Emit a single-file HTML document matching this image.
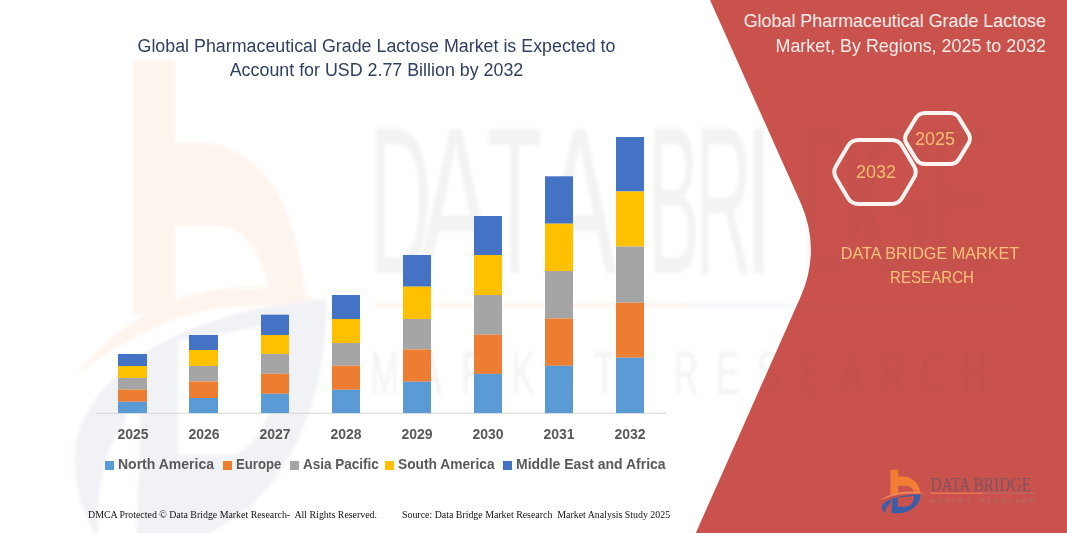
<!DOCTYPE html>
<html><head><meta charset="utf-8">
<style>
html,body{margin:0;padding:0;}
body{width:1067px;height:533px;overflow:hidden;background:#fff;position:relative;font-family:"Liberation Sans",sans-serif;}
.abs{position:absolute;white-space:nowrap;line-height:1;}
svg{position:absolute;left:0;top:0;}
.t1{color:#2F4064;font-size:17.6px;left:0;width:753px;text-align:center;transform:scaleX(1.014);transform-origin:376.5px 0;}
.rt{color:#FCEDEA;font-size:17.9px;right:21px;text-align:right;}
.yr{color:#595959;font-weight:bold;font-size:14px;width:60px;text-align:center;}
.lg{color:#595959;font-weight:bold;font-size:14px;}
.sq{position:absolute;width:8.8px;height:9px;top:461px;}
.ft{font-family:"Liberation Serif",serif;font-size:10px;color:#111;}
.hx{color:#F8BE70;font-size:18px;width:60px;text-align:center;}
.dbm{color:#FAC478;font-size:17px;width:200px;text-align:center;transform-origin:100px 0;}
</style></head>
<body>
<svg width="1067" height="533" viewBox="0 0 1067 533">
  <defs>
    <clipPath id="cpw"><path d="M0 0 L710 0 L800.3 202 Q821.5 249.6 800.5 297 L695.8 533 L0 533 Z"/></clipPath><clipPath id="cpr"><path d="M710 0 L800.3 202 Q821.5 249.6 800.5 297 L695.8 533 L1067 533 L1067 0 Z"/></clipPath>
    <filter id="blur" x="-10%" y="-10%" width="120%" height="120%"><feGaussianBlur stdDeviation="1.5"/></filter>
    <g id="wmc">
    <g opacity="0.085">
      <g transform="translate(133 59.7) scale(5.75 10.4)">
      <path d="M0 0 L7.4 0 L7.4 8 L12 8 C22 8 29 14 30.1 23.5 L24.1 23.5 C23 19 19.5 16 15 16 L7.4 16 L7.4 24.5 L0 24.5 Z" fill="#F27E36"/>
      <path d="M-10.1 30.4 C-4 26 6 22.5 16 22 C25 21.6 31 22.5 34.7 23.8 C30 23.8 24 23.4 16 23.8 C6 24.5 -3 27.5 -10.1 30.4 Z" fill="#F27E36"/>
      </g>
      <g transform="translate(130 300) scale(6.5 12.5) translate(0 -24.5)">
      <path fill-rule="evenodd" d="M2 28.8 C9 26.5 19 24.8 30.2 24.5 C30.5 33 23 41.5 10 43.5 L1 43.5 Z M7.4 27.8 L23.5 26.3 C24.5 30 21 36.9 15 36.9 L7.4 36.9 Z" fill="#5A6C98"/>
      <path d="M1.5 29 C-4 31 -8.5 34 -8.5 37 C-8.5 40 -6.5 42.5 -4.8 43.5 C-5.5 40 -4 36.5 -1 34.5 Z" fill="#5A6C98"/>
      </g>
    </g>
    <g opacity="0.075" fill="#555" font-family="Liberation Sans">
      <g font-size="210"><text transform="translate(400.5 273) scale(0.41 1)" text-anchor="middle">D</text><text transform="translate(455.5 273) scale(0.53 1)" text-anchor="middle">A</text><text transform="translate(514.5 273) scale(0.43 1)" text-anchor="middle">T</text><text transform="translate(579.5 273) scale(0.535 1)" text-anchor="middle">A</text><text transform="translate(674 273) scale(0.37 1)" text-anchor="middle">B</text><text transform="translate(723.5 273) scale(0.38 1)" text-anchor="middle">R</text><text transform="translate(758.5 273) scale(0.5 1)" text-anchor="middle">I</text><text transform="translate(832 273) scale(0.42 1)" text-anchor="middle">D</text><text transform="translate(896 273) scale(0.44 1)" text-anchor="middle">G</text><text transform="translate(960 273) scale(0.45 1)" text-anchor="middle">E</text></g>
      <g font-size="62"><text transform="translate(384.5 394) scale(0.55 1)" text-anchor="middle">M</text><text transform="translate(430.0 394) scale(0.55 1)" text-anchor="middle">A</text><text transform="translate(474.0 394) scale(0.55 1)" text-anchor="middle">R</text><text transform="translate(523.0 394) scale(0.55 1)" text-anchor="middle">K</text><text transform="translate(563.0 394) scale(0.55 1)" text-anchor="middle">E</text><text transform="translate(604.5 394) scale(0.55 1)" text-anchor="middle">T</text><text transform="translate(686.0 394) scale(0.55 1)" text-anchor="middle">R</text><text transform="translate(727.3 394) scale(0.55 1)" text-anchor="middle">E</text><text transform="translate(768.6 394) scale(0.55 1)" text-anchor="middle">S</text><text transform="translate(809.9 394) scale(0.55 1)" text-anchor="middle">E</text><text transform="translate(851.2 394) scale(0.55 1)" text-anchor="middle">A</text><text transform="translate(892.5 394) scale(0.55 1)" text-anchor="middle">R</text><text transform="translate(933.8 394) scale(0.55 1)" text-anchor="middle">C</text><text transform="translate(975.1 394) scale(0.55 1)" text-anchor="middle">H</text></g>
    </g>
    <rect x="374" y="303" width="314" height="5" fill="#F27E36" opacity="0.07"/>
    <rect x="688" y="303" width="327" height="5" fill="#3A5DAA" opacity="0.05"/>
    </g>
  </defs>
  <!-- red panel -->
  <path d="M710 0 L800.3 202 Q821.5 249.6 800.5 297 L695.8 533 L1067 533 L1067 0 Z" fill="#CA524D"/>
  <!-- watermark -->
  <g clip-path="url(#cpw)"><use href="#wmc" filter="url(#blur)"/></g>
  <g clip-path="url(#cpr)" opacity="0.6"><use href="#wmc" filter="url(#blur)"/></g>
  <!-- axis -->
  <rect x="96" y="412.8" width="570" height="1.1" fill="#D9D9D9"/>
  <g id="bars">
<rect x="118" y="354" width="29" height="12" fill="#4472C4"/>
<rect x="118" y="366" width="29" height="12" fill="#FFC000"/>
<rect x="118" y="378" width="29" height="11.6" fill="#A5A5A5"/>
<rect x="118" y="389.6" width="29" height="12.2" fill="#ED7D31"/>
<rect x="118" y="401.8" width="29" height="11.2" fill="#5B9BD5"/>
<rect x="189" y="335" width="29" height="15" fill="#4472C4"/>
<rect x="189" y="350" width="29" height="16" fill="#FFC000"/>
<rect x="189" y="366" width="29" height="15.5" fill="#A5A5A5"/>
<rect x="189" y="381.5" width="29" height="16.5" fill="#ED7D31"/>
<rect x="189" y="398" width="29" height="15" fill="#5B9BD5"/>
<rect x="261" y="314.7" width="28" height="20.3" fill="#4472C4"/>
<rect x="261" y="335" width="28" height="19" fill="#FFC000"/>
<rect x="261" y="354" width="28" height="19.8" fill="#A5A5A5"/>
<rect x="261" y="373.8" width="28" height="20.0" fill="#ED7D31"/>
<rect x="261" y="393.8" width="28" height="19.2" fill="#5B9BD5"/>
<rect x="332" y="295" width="28" height="24" fill="#4472C4"/>
<rect x="332" y="319" width="28" height="24" fill="#FFC000"/>
<rect x="332" y="343" width="28" height="22.7" fill="#A5A5A5"/>
<rect x="332" y="365.7" width="28" height="24.1" fill="#ED7D31"/>
<rect x="332" y="389.8" width="28" height="23.2" fill="#5B9BD5"/>
<rect x="403" y="255" width="28" height="31.7" fill="#4472C4"/>
<rect x="403" y="286.7" width="28" height="32.3" fill="#FFC000"/>
<rect x="403" y="319" width="28" height="30.5" fill="#A5A5A5"/>
<rect x="403" y="349.5" width="28" height="32.2" fill="#ED7D31"/>
<rect x="403" y="381.7" width="28" height="31.3" fill="#5B9BD5"/>
<rect x="474" y="216" width="28" height="39" fill="#4472C4"/>
<rect x="474" y="255" width="28" height="40" fill="#FFC000"/>
<rect x="474" y="295" width="28" height="39.7" fill="#A5A5A5"/>
<rect x="474" y="334.7" width="28" height="39.2" fill="#ED7D31"/>
<rect x="474" y="373.9" width="28" height="39.1" fill="#5B9BD5"/>
<rect x="545" y="176.3" width="28" height="47.4" fill="#4472C4"/>
<rect x="545" y="223.7" width="28" height="47.3" fill="#FFC000"/>
<rect x="545" y="271" width="28" height="47.5" fill="#A5A5A5"/>
<rect x="545" y="318.5" width="28" height="47.3" fill="#ED7D31"/>
<rect x="545" y="365.8" width="28" height="47.2" fill="#5B9BD5"/>
<rect x="616" y="137" width="28" height="54.5" fill="#4472C4"/>
<rect x="616" y="191.5" width="28" height="55.1" fill="#FFC000"/>
<rect x="616" y="246.6" width="28" height="56.1" fill="#A5A5A5"/>
<rect x="616" y="302.7" width="28" height="55.0" fill="#ED7D31"/>
<rect x="616" y="357.7" width="28" height="55.3" fill="#5B9BD5"/>
</g>
  <!-- hexagons -->
  <path d="M836.07 178.02 Q832.50 172.00 836.07 165.98 L847.93 146.02 Q851.50 140.00 858.50 140.00 L891.50 140.00 Q898.50 140.00 902.07 146.02 L913.93 165.98 Q917.50 172.00 913.93 178.02 L902.07 197.98 Q898.50 204.00 891.50 204.00 L858.50 204.00 Q851.50 204.00 847.93 197.98 Z" fill="none" stroke="#FDF3F0" stroke-width="4"/>
  <path d="M906.62 143.63 Q903.50 138.50 906.62 133.37 L915.88 118.13 Q919.00 113.00 925.00 113.00 L950.00 113.00 Q956.00 113.00 959.12 118.13 L968.38 133.37 Q971.50 138.50 968.38 143.63 L959.12 158.87 Q956.00 164.00 950.00 164.00 L925.00 164.00 Q919.00 164.00 915.88 158.87 Z" fill="none" stroke="#FDF3F0" stroke-width="4"/>
  <g id="logo">
  <g transform="translate(890.4 469.8)"><g id="icon">
    <path d="M0 0 L7.9 0 L7.9 6.8 L12 6.8 C22 6.8 29 14 30.1 23.5 L24.1 23.5 C23 19 19.5 16 15 16 L7.9 16 L7.9 24.5 L0 24.5 Z" fill="#F27E36"/>
    <path d="M-10.1 30.4 C-4 26 6 22.5 16 22 C25 21.6 31 22.5 34.7 23.8 C30 23.8 24 23.4 16 23.8 C6 24.5 -3 27.5 -10.1 30.4 Z" fill="#F58A5A"/>
    <path fill-rule="evenodd" d="M2 28.8 C9 26.5 19 24.8 30.2 24.5 C30.5 33 23 41.5 10 43.5 L1 43.5 Z M7.4 27.8 L23.5 26.3 C24.5 30 21 36.9 15 36.9 L7.4 36.9 Z" fill="#3A5DAA"/>
    <path d="M1.5 29 C-4 31 -8.5 34 -8.5 37 C-8.5 40 -6.5 42.5 -4.8 43.5 C-5.5 40 -4 36.5 -1 34.5 Z" fill="#3A5DAA"/>
  </g></g>
  <text x="930.4" y="490.5" font-family="Liberation Serif" font-size="19.5" fill="#7A5560" textLength="100.7" lengthAdjust="spacingAndGlyphs">DATA BRIDGE</text>
  <rect x="930.5" y="492.7" width="52.7" height="1.1" fill="#F3805E"/>
  <rect x="983.2" y="492.7" width="52" height="1.1" fill="#B8706C"/>
  <text y="502.5" font-family="Liberation Sans" font-size="5.5" fill="#A87672"><tspan x="931.0">M</tspan><tspan x="938.1">A</tspan><tspan x="945.1">R</tspan><tspan x="952.2">K</tspan><tspan x="959.3">E</tspan><tspan x="966.4">T</tspan><tspan x="980.5">R</tspan><tspan x="987.6">E</tspan><tspan x="994.6">S</tspan><tspan x="1001.7">E</tspan><tspan x="1008.8">A</tspan><tspan x="1015.9">R</tspan><tspan x="1022.9">C</tspan><tspan x="1030.0">H</tspan></text>
</g>
</svg>

<div class="abs t1" style="top:37.9px">Global Pharmaceutical Grade Lactose Market is Expected to</div>
<div class="abs t1" style="top:62px">Account for USD 2.77 Billion by 2032</div>

<div class="abs rt" style="top:13px">Global Pharmaceutical Grade Lactose</div>
<div class="abs rt" style="top:37.5px">Market, By Regions, 2025 to 2032</div>

<div class="abs hx" style="left:846px;top:162.6px">2032</div>
<div class="abs hx" style="left:905px;top:130.4px">2025</div>

<div class="abs dbm" style="left:829.5px;top:245.2px;transform:scaleX(0.952)">DATA BRIDGE MARKET</div>
<div class="abs dbm" style="left:831.5px;top:269.2px;transform:scaleX(0.889)">RESEARCH</div>

<div class="abs yr" style="left:103.0px;top:427.1px">2025</div>
<div class="abs yr" style="left:174.0px;top:427.1px">2026</div>
<div class="abs yr" style="left:245.0px;top:427.1px">2027</div>
<div class="abs yr" style="left:316.0px;top:427.1px">2028</div>
<div class="abs yr" style="left:387.0px;top:427.1px">2029</div>
<div class="abs yr" style="left:458.0px;top:427.1px">2030</div>
<div class="abs yr" style="left:529.0px;top:427.1px">2031</div>
<div class="abs yr" style="left:600.0px;top:427.1px">2032</div>

<div class="sq" style="left:105px;background:#5B9BD5"></div>
<div class="abs lg" style="left:118px;top:456.9px">North America</div>
<div class="sq" style="left:223px;background:#ED7D31"></div>
<div class="abs lg" style="left:235.5px;top:456.9px;transform:scaleX(0.94);transform-origin:0 0">Europe</div>
<div class="sq" style="left:290px;background:#A5A5A5"></div>
<div class="abs lg" style="left:303px;top:456.9px;transform:scaleX(0.965);transform-origin:0 0">Asia Pacific</div>
<div class="sq" style="left:385px;background:#FFC000"></div>
<div class="abs lg" style="left:397.5px;top:456.9px;transform:scaleX(0.983);transform-origin:0 0">South America</div>
<div class="sq" style="left:503px;background:#4472C4"></div>
<div class="abs lg" style="left:516px;top:456.9px;transform:scaleX(1.0);transform-origin:0 0">Middle East and Africa</div>

<div class="abs ft" style="left:88px;top:510px;transform:scaleX(0.987);transform-origin:0 0">DMCA Protected © Data Bridge Market Research-&nbsp; All Rights Reserved.</div>
<div class="abs ft" style="left:402px;top:510px;transform:scaleX(0.988);transform-origin:0 0">Source: Data Bridge Market Research&nbsp; Market Analysis Study 2025</div>
</body></html>
